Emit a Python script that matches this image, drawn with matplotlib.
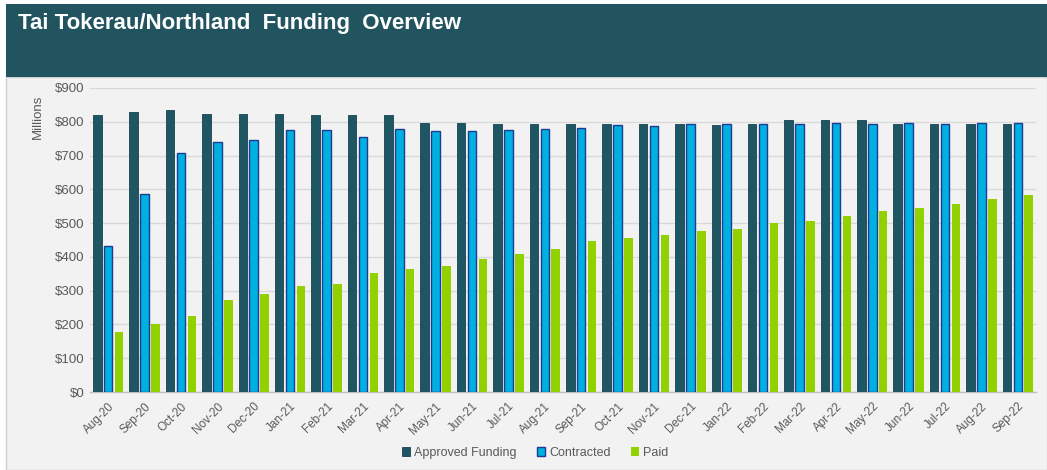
import matplotlib
matplotlib.use("Agg")
import matplotlib.pyplot as plt
import numpy as np
from matplotlib.patches import Rectangle

plt.rcParams['font.family'] = ['Liberation Sans', 'DejaVu Sans']

months = ["Aug-20", "Sep-20", "Oct-20", "Nov-20", "Dec-20", "Jan-21", "Feb-21", "Mar-21",
          "Apr-21", "May-21", "Jun-21", "Jul-21", "Aug-21", "Sep-21", "Oct-21", "Nov-21",
          "Dec-21", "Jan-22", "Feb-22", "Mar-22", "Apr-22", "May-22", "Jun-22", "Jul-22",
          "Aug-22", "Sep-22"]
approved = [821, 828, 834, 823, 823, 823, 821, 820, 821, 797, 795, 793, 793, 793, 793, 793,
            793, 790, 793, 806, 806, 806, 793, 793, 793, 793]
contracted = [433, 587, 708, 739, 747, 775, 777, 755, 779, 774, 774, 777, 779, 783, 789, 788,
              793, 793, 793, 793, 795, 793, 795, 793, 795, 795]
paid = [177, 201, 225, 271, 289, 313, 319, 351, 365, 374, 395, 408, 423, 446, 457, 464,
        478, 484, 499, 507, 522, 535, 545, 556, 571, 582]
yticks = [0, 100, 200, 300, 400, 500, 600, 700, 800, 900]

W, H = 1047, 470
fig = plt.figure(figsize=(W / 100, H / 100), dpi=100)
fig.patch.set_facecolor("white")

# background panel
fig.patches.append(Rectangle((6 / W, 0), 1 - 6 / W, 1 - 77 / H, transform=fig.transFigure,
                             facecolor="#F2F2F2", edgecolor="#D0D0D0", linewidth=1, zorder=-10))
# header
fig.patches.append(Rectangle((6 / W, 1 - 77 / H), 1 - 6 / W, 73 / H, transform=fig.transFigure,
                             facecolor="#22545F", edgecolor="none", zorder=-10))
fig.text(18 / W, 1 - 23.5 / H, "Tai Tokerau/Northland  Funding  Overview", color="white",
         fontsize=16, fontweight="bold", va="center", ha="left")

ax = fig.add_axes([90 / W, 1 - 392 / H, (1036 - 90) / W, (392 - 88) / H])
ax.set_facecolor("#F2F2F2")

x = np.arange(len(months))
bw = 0.235
off = 0.3
ax.bar(x - off, approved, bw, color="#1F5663", edgecolor="#17434D", linewidth=0.6,
       label="Approved Funding", zorder=3)
ax.bar(x, contracted, bw, color="#00B0E0", edgecolor="#1F3A93", linewidth=1.0,
       label="Contracted", zorder=3)
ax.bar(x + off, paid, bw, color="#92D000", edgecolor="none", label="Paid", zorder=3)

ax.set_xlim(-0.5, len(months) - 0.5)
ax.set_ylim(0, 900)
ax.set_yticks(yticks)
ax.set_yticklabels([f"${v}" for v in yticks], fontsize=9.5, color="#595959")
ax.set_xticks(x)
ax.set_xticklabels(months, rotation=45, ha="right", rotation_mode="anchor", fontsize=8.5,
                   color="#595959")
ax.tick_params(axis="both", length=0, pad=4)
ax.tick_params(axis="x", pad=6)
ax.grid(axis="y", color="#D9D9D9", linewidth=1, zorder=0)
ax.set_axisbelow(True)
for s in ["top", "right", "left"]:
    ax.spines[s].set_visible(False)
ax.spines["bottom"].set_color("#BFBFBF")
ax.spines["bottom"].set_linewidth(1)

fig.text(38 / W, 1 - 117 / H, "Millions", rotation=90, fontsize=9.5, color="#595959",
         ha="center", va="center")

handles, labels = ax.get_legend_handles_labels()
leg = fig.legend(handles, labels, loc="center", bbox_to_anchor=(535 / W, 1 - 453 / H),
                 ncol=3, frameon=False, fontsize=9, handlelength=0.7, handleheight=0.7,
                 handletextpad=0.3, columnspacing=1.6, labelcolor="#595959")

fig.savefig("out.png", dpi=100, facecolor=fig.get_facecolor())
